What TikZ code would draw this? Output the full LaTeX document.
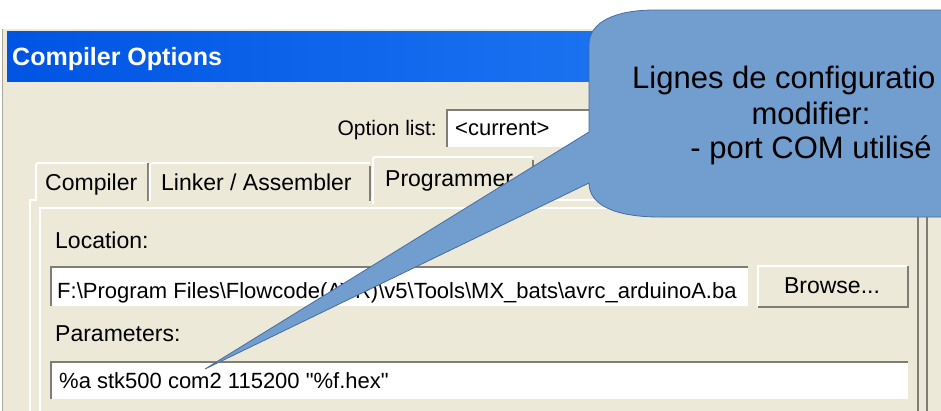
\documentclass[tikz,border=0pt]{standalone}
\usepackage{fontspec}
\setmainfont{Liberation Sans}
\definecolor{dlgbeige}{RGB}{236,233,216}
\definecolor{tbdark}{RGB}{0,84,227}
\definecolor{tblight}{RGB}{42,132,248}
\definecolor{edgedark}{RGB}{128,126,116}
\definecolor{edgemid}{RGB}{172,168,153}
\definecolor{callfill}{RGB}{114,158,207}
\definecolor{callline}{RGB}{70,108,160}
\tikzset{
  dlgtext/.style={font=\fontsize{23}{23}\selectfont, inner sep=0pt, text=black},
  edittext/.style={font=\fontsize{22}{22}\selectfont, inner sep=0pt, text=black},
  calltextstyle/.style={font=\fontsize{31}{31}\selectfont, inner sep=0pt, text=black, anchor=base},
  editbox/.style={fill=white, draw=none, inner sep=0pt},
  btnbox/.style={fill=dlgbeige, draw=none, inner sep=0pt},
  darkedge/.style={draw=edgedark, line width=2pt},
  lightedge/.style={draw=white, line width=2pt},
}
\begin{document}
\begin{tikzpicture}[x=1pt,y=-1pt]
\useasboundingbox (0,0) rectangle (941,410);
\clip (0,0) rectangle (941,410);
\fill[white] (0,0) rectangle (941,410);
% dialog background
\fill[dlgbeige] (2,29) rectangle (945,415);
\draw[edgemid, line width=1.5pt] (2.5,29) -- (2.5,415);
% title bar
\node[shade, left color=tbdark, right color=tblight, minimum width=934pt, minimum height=50pt, inner sep=0pt] (title) at (474,56) {};
\node[font=\bfseries\fontsize{25}{25}\selectfont, text=white, inner sep=0pt, anchor=base west] (titletext) at (12,65) {Compiler Options};
% option list
\node[dlgtext, font=\fontsize{21}{21}\selectfont, anchor=base east] (optlabel) at (437,135) {Option list:};
\node[editbox, minimum width=173pt, minimum height=37pt] (combo) at (533.5,128.5) {};
\draw[darkedge] (combo.south west) -- (combo.north west) -- (combo.north east);
\node[edittext, anchor=base west] (combotext) at (455,135) {<current>};
% panel
\draw[lightedge] (30,420) -- (30,200) -- (941,200);
\draw[lightedge, line width=1.5pt] (40,420) -- (40,208) -- (915,208);
\draw[darkedge] (918,200) -- (918,420);
\draw[darkedge] (927,200) -- (927,420);
% tabs
\node[btnbox, minimum width=112pt, minimum height=38pt] (tabcomp) at (92,182) {};
\draw[lightedge, rounded corners=3pt] (tabcomp.south west) -- (tabcomp.north west) -- (tabcomp.north east);
\draw[darkedge] (tabcomp.north east) -- (tabcomp.south east);
\node[btnbox, minimum width=220pt, minimum height=38pt] (tablink) at (260,182) {};
\draw[lightedge, rounded corners=3pt] (tablink.south west) -- (tablink.north west) -- (tablink.north east);
\draw[darkedge] ([yshift=-3pt]tablink.north east) -- (tablink.south east);
\node[btnbox, minimum width=160pt, minimum height=47pt] (tabprog) at (453,180.5) {};
\draw[lightedge, rounded corners=3pt] (tabprog.south west) -- (tabprog.north west) -- (tabprog.north east);
\draw[darkedge] ([yshift=-3pt]tabprog.north east) -- ([yshift=8pt]tabprog.south east);
\node[dlgtext, anchor=base west] (tabcomptext) at (45,190) {Compiler};
\node[dlgtext, anchor=base west] (tablinktext) at (161,190) {Linker / Assembler};
\node[dlgtext, anchor=base west] (tabprogtext) at (385,186) {Programmer};
% location
\node[dlgtext, anchor=base west] (loclabel) at (55,248) {Location:};
\node[editbox, minimum width=697pt, minimum height=39pt] (locbox) at (399.5,286.5) {};
\draw[darkedge] (locbox.south west) -- (locbox.north west) -- (locbox.north east);
\node[edittext, anchor=base west] (loctext) at (57,298) {F:\textbackslash Program Files\textbackslash Flowcode(AVR)\textbackslash v5\textbackslash Tools\textbackslash MX\_bats\textbackslash avrc\_arduinoA.ba};
\node[btnbox, minimum width=150pt, minimum height=41pt] (browse) at (833,286.5) {};
\draw[lightedge] (browse.south west) -- (browse.north west) -- (browse.north east);
\draw[darkedge] (browse.north east) -- (browse.south east) -- (browse.south west);
\node[dlgtext, anchor=base] (browsetext) at (832,293) {Browse...};
% parameters
\node[dlgtext, anchor=base west] (paramlabel) at (55,341) {Parameters:};
\node[editbox, minimum width=857pt, minimum height=37pt] (parambox) at (479.5,380.5) {};
\draw[darkedge] (parambox.south west) -- (parambox.north west) -- (parambox.north east);
\node[edittext, anchor=base west] (paramtext) at (59,388) {\%a stk500 com2 115200 \textquotedbl\%f.hex\textquotedbl};
% callout
\coordinate (tip) at (205,369);
\draw[fill=callfill, draw=callline, line width=0.8pt]
  (589,132) -- (tip) -- (589,183)
  .. controls (589,205) and (615,217) .. (660,217)
  -- (1050,217) -- (1050,10) -- (655,10)
  .. controls (615,10) and (589,22) .. (589,45) -- cycle;
\node[calltextstyle, anchor=base west] (callline1) at (632,88) {Lignes de configuratio};
\node[calltextstyle] (callline2) at (811,124) {modifier:};
\node[calltextstyle] (callline3) at (811,158) {- port COM utilisé};
\end{tikzpicture}
\end{document}
